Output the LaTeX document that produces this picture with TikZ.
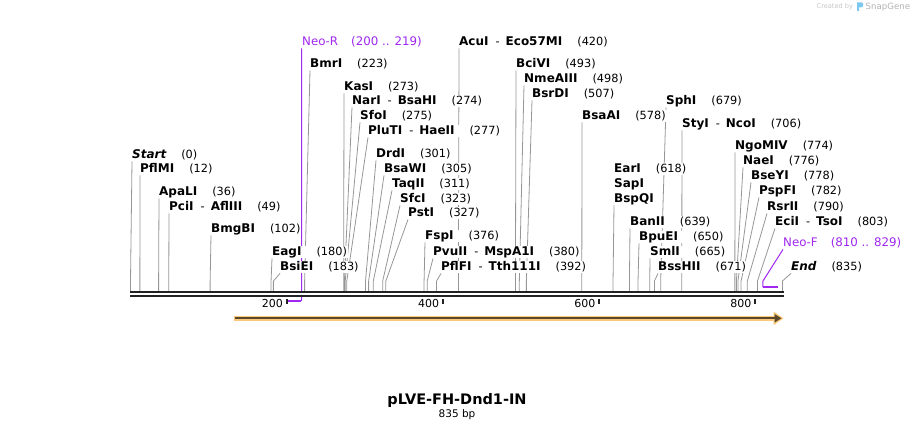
\documentclass[tikz,border=0pt]{standalone}
\usepackage{fontspec}
\setmainfont{DejaVu Sans}
\usetikzlibrary{arrows.meta,backgrounds}
\definecolor{primer}{RGB}{160,40,240}
\definecolor{featfill}{RGB}{250,200,120}
\definecolor{featline}{RGB}{90,72,45}
\definecolor{axisblack}{RGB}{34,34,34}
\definecolor{linegray}{RGB}{150,150,150}
\definecolor{logoblue}{RGB}{125,200,240}
\newcommand{\bp}[1]{130.5+0.7808*#1}
\newcommand{\enz}[1]{{\fontsize{12}{13}\selectfont\bfseries #1}}
\newcommand{\nm}[2]{\enz{#1}\hspace{15pt}(#2)}
\newcommand{\nmm}[3]{\enz{#1}\hspace{7pt}-\hspace{6pt}\enz{#2}\hspace{15pt}(#3)}
\tikzset{
	sitelabel/.style={anchor=west, fill=white, inner sep=1pt, text height=9pt, text depth=1.5pt, font=\fontsize{11.3}{13}\selectfont},
	siteline/.style={draw=linegray, line width=0.8pt},
	primerline/.style={draw=primer, line width=1pt},
}
\newcommand{\cutsite}[5]{
	\node[sitelabel] (#1) at (#2,#3) {#5};
	\coordinate (#1-bend) at ({\bp{#4}},281);
	\coordinate (#1-cut) at ({\bp{#4}},291);
	\begin{scope}[on background layer]
	\draw[siteline] ([xshift=1pt]#1.south west) -- (#1-bend) -- (#1-cut);
	\end{scope}
}

\begin{document}
\begin{tikzpicture}[x=1pt,y=-1pt]
	\useasboundingbox (0,0) rectangle (914,430);

	\cutsite{Start}{131}{155}{0}{{\fontsize{12}{13}\selectfont\bfseries\itshape Start}\hspace{15pt}(0)}
	\cutsite{PflMI}{139}{169}{12}{\nm{PflMI}{12}}
	\cutsite{ApaLI}{158}{192}{36}{\nm{ApaLI}{36}}
	\cutsite{PciI}{168}{207}{49}{\nmm{PciI}{AflIII}{49}}
	\cutsite{BmgBI}{210}{229}{102}{\nm{BmgBI}{102}}
	\cutsite{EagI}{271}{252}{180}{\nm{EagI}{180}}
	\cutsite{BsiEI}{279}{267}{183}{\nm{BsiEI}{183}}
	\cutsite{BmrI}{309}{64}{223}{\nm{BmrI}{223}}
	\cutsite{KasI}{343}{87}{273}{\nm{KasI}{273}}
	\cutsite{NarI}{351}{101}{274}{\nmm{NarI}{BsaHI}{274}}
	\cutsite{SfoI}{359}{116}{275}{\nm{SfoI}{275}}
	\cutsite{PluTI}{367}{131}{277}{\nmm{PluTI}{HaeII}{277}}
	\cutsite{DrdI}{375}{154}{301}{\nm{DrdI}{301}}
	\cutsite{BsaWI}{383}{169}{305}{\nm{BsaWI}{305}}
	\cutsite{TaqII}{391}{184}{311}{\nm{TaqII}{311}}
	\cutsite{SfcI}{399}{199}{323}{\nm{SfcI}{323}}
	\cutsite{PstI}{407}{213}{327}{\nm{PstI}{327}}
	\cutsite{FspI}{424}{236}{376}{\nm{FspI}{376}}
	\cutsite{PvuII}{432}{252}{380}{\nmm{PvuII}{MspA1I}{380}}
	\cutsite{PflFI}{440}{267}{392}{\nmm{PflFI}{Tth111I}{392}}
	\cutsite{AcuI}{458}{42}{420}{\nmm{AcuI}{Eco57MI}{420}}
	\cutsite{BciVI}{515}{64}{493}{\nm{BciVI}{493}}
	\cutsite{NmeAIII}{523}{79}{498}{\nm{NmeAIII}{498}}
	\cutsite{BsrDI}{531}{94}{507}{\nm{BsrDI}{507}}
	\cutsite{BsaAI}{581}{116}{578}{\nm{BsaAI}{578}}
	\node[sitelabel] (EarI) at (613,169) {\nm{EarI}{618}};
	\node[sitelabel] (SapI) at (613,184) {\enz{SapI}};
	\cutsite{BspQI}{613}{199}{618}{\enz{BspQI}}
	\cutsite{SphI}{665}{101}{679}{\nm{SphI}{679}}
	\cutsite{StyI}{681}{124}{706}{\nmm{StyI}{NcoI}{706}}
	\cutsite{BanII}{629}{222}{639}{\nm{BanII}{639}}
	\cutsite{BpuEI}{638}{237}{650}{\nm{BpuEI}{650}}
	\cutsite{SmlI}{649}{252}{665}{\nm{SmlI}{665}}
	\cutsite{BssHII}{657}{267}{671}{\nm{BssHII}{671}}
	\cutsite{NgoMIV}{734}{146}{774}{\nm{NgoMIV}{774}}
	\cutsite{NaeI}{742}{161}{776}{\nm{NaeI}{776}}
	\cutsite{BseYI}{750}{176}{778}{\nm{BseYI}{778}}
	\cutsite{PspFI}{758}{191}{782}{\nm{PspFI}{782}}
	\cutsite{RsrII}{766}{207}{790}{\nm{RsrII}{790}}
	\cutsite{EciI}{774}{222}{803}{\nmm{EciI}{TsoI}{803}}
	\cutsite{End}{790}{267}{835}{{\fontsize{12}{13}\selectfont\bfseries\itshape End}\hspace{15pt}(835)}

	\node[sitelabel, text=primer, font=\fontsize{11.8}{13}\selectfont] (NeoR) at (301,42) {Neo-R\hspace{13pt}(200 .. 219)};
	\coordinate (NeoR-turn) at ({\bp{219}},301);
	\coordinate (NeoR-end) at ({\bp{200}},301);
	\node[sitelabel, text=primer, font=\fontsize{11.8}{13}\selectfont] (NeoF) at (782,243) {Neo-F\hspace{13pt}(810 .. 829)};
	\coordinate (NeoF-bend) at ({\bp{810}},281);
	\coordinate (NeoF-start) at ({\bp{810}},287.3);
	\coordinate (NeoF-end) at ({\bp{829}},287.3);
	\begin{scope}[on background layer]
	\draw[primerline] ([xshift=0.7pt]NeoR.south west) -- (NeoR-turn);
	\draw[primerline, line width=1.8pt] (NeoR-turn) -- (NeoR-end);
	\draw[primerline] ([xshift=1pt]NeoF.south west) -- (NeoF-bend) -- (NeoF-start);
	\draw[primerline, line width=1.8pt] (NeoF-start) -- (NeoF-end);
	\end{scope}

	\coordinate (seqL) at (130,294.2);
	\coordinate (seqR) at (783.5,294.2);
	\draw[axisblack, line width=2.5pt, double=white, double distance=1.5pt] (seqL) -- (seqR);
	\foreach \t in {200,400,600,800}{
		\draw[axisblack, line width=2pt] ({\bp{\t}},299) -- ({\bp{\t}},304);
		\node[anchor=base east, inner sep=1pt, font=\fontsize{11}{13}\selectfont] (tick\t) at ({\bp{\t}-2.5},307.7) {\t};
	}

	\coordinate (featL) at (233.5,318.3);
	\coordinate (featR) at (783.5,318.3);
	\draw[featfill, line width=5.5pt, -{Triangle[length=10pt,width=13pt]}] (featL) -- (featR);
	\draw[featline, line width=2pt, -{Triangle[length=7pt,width=8pt]}] ([xshift=1.5pt]featL) -- ([xshift=-2pt]featR);

	\node[anchor=base, font=\fontsize{14.5}{17}\selectfont\bfseries] (title) at (457,405) {pLVE-FH-Dnd1-IN};
	\node[anchor=base, font=\fontsize{10.5}{12}\selectfont] (length) at (457,417.5) {835 bp};

	\node[anchor=base west, inner sep=0pt, text=gray!45, font=\fontsize{6.6}{7}\selectfont] (created) at (816.5,9) {Created by};
	\fill[logoblue] (857,2.5) -- (861.5,2.5) .. controls (864,2.5) and (864,7) .. (861,7.5) -- (859,7.5) -- (859,11) -- (857,11) -- cycle;
	\node[anchor=base west, inner sep=0pt, text=gray!60, font=\fontsize{8.6}{9}\selectfont] (snapgene) at (865.5,9.3) {SnapGene};
\end{tikzpicture}
\end{document}
